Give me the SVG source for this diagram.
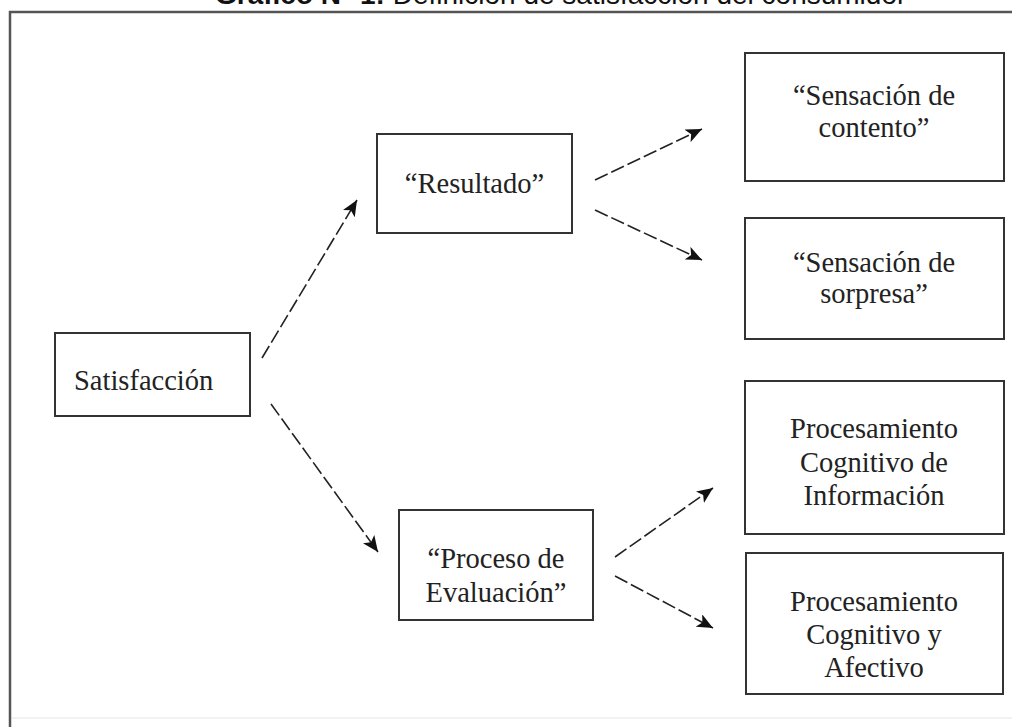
<svg xmlns="http://www.w3.org/2000/svg" width="1012" height="727" viewBox="0 0 1012 727">
<defs>
<style>
.box{fill:#fff;stroke:#333;stroke-width:2}
.t{font-family:"Liberation Serif","Times New Roman",serif;font-size:28.5px;fill:#222;text-anchor:middle}
.c{fill:none;stroke:#222;stroke-width:1.6;stroke-dasharray:14 4}
.title{font-family:"Liberation Sans",Arial,sans-serif;font-size:28px;fill:#111}
</style>
<marker id="ah" markerUnits="userSpaceOnUse" markerWidth="18" markerHeight="14" refX="16" refY="7" orient="auto">
<path d="M0,0 L16,7 L0,14 L4,7 Z" fill="#111"/>
</marker>
</defs>
<rect width="1012" height="727" fill="#fff"/>
<g id="title">
<text class="title" x="215" y="4"><tspan font-weight="bold">Gráfico N° 1:</tspan> Definición de satisfacción del consumidor</text>
</g>
<g id="frame">
<path d="M1012,12 H10 V727" fill="none" stroke="#555" stroke-width="2.5"/>
<path d="M12,718 H1012" fill="none" stroke="#f2f2f2" stroke-width="2"/>
</g>
<g id="connectors">
<line class="c" x1="262" y1="358" x2="357" y2="200" marker-end="url(#ah)"/>
<line class="c" x1="271" y1="404" x2="378" y2="552" marker-end="url(#ah)"/>
<line class="c" x1="595" y1="180" x2="702" y2="129" marker-end="url(#ah)"/>
<line class="c" x1="595" y1="210" x2="702" y2="260" marker-end="url(#ah)"/>
<line class="c" x1="615" y1="557" x2="713" y2="488" marker-end="url(#ah)"/>
<line class="c" x1="615" y1="576" x2="713" y2="628" marker-end="url(#ah)"/>
</g>
<g id="satisfaccion">
<rect class="box" x="55" y="333" width="195" height="83"/>
<text class="t" x="74" y="390" style="text-anchor:start">Satisfacción</text>
</g>
<g id="resultado">
<rect class="box" x="377" y="134" width="195" height="99"/>
<text class="t" x="474.5" y="193">“Resultado”</text>
</g>
<g id="proceso">
<rect class="box" x="399" y="510" width="194" height="110"/>
<text class="t" x="496" y="568">“Proceso de</text>
<text class="t" x="496" y="602">Evaluación”</text>
</g>
<g id="contento">
<rect class="box" x="745" y="53" width="259" height="128"/>
<text class="t" x="874" y="105">“Sensación de</text>
<text class="t" x="874" y="137">contento”</text>
</g>
<g id="sorpresa">
<rect class="box" x="745" y="218" width="259" height="121"/>
<text class="t" x="874" y="272">“Sensación de</text>
<text class="t" x="874" y="303">sorpresa”</text>
</g>
<g id="informacion">
<rect class="box" x="745" y="381" width="259" height="153"/>
<text class="t" x="874" y="438">Procesamiento</text>
<text class="t" x="874" y="472">Cognitivo de</text>
<text class="t" x="874" y="505">Información</text>
</g>
<g id="afectivo">
<rect class="box" x="746" y="553" width="257" height="141"/>
<text class="t" x="874" y="611">Procesamiento</text>
<text class="t" x="874" y="644">Cognitivo y</text>
<text class="t" x="874" y="677">Afectivo</text>
</g>
</svg>
